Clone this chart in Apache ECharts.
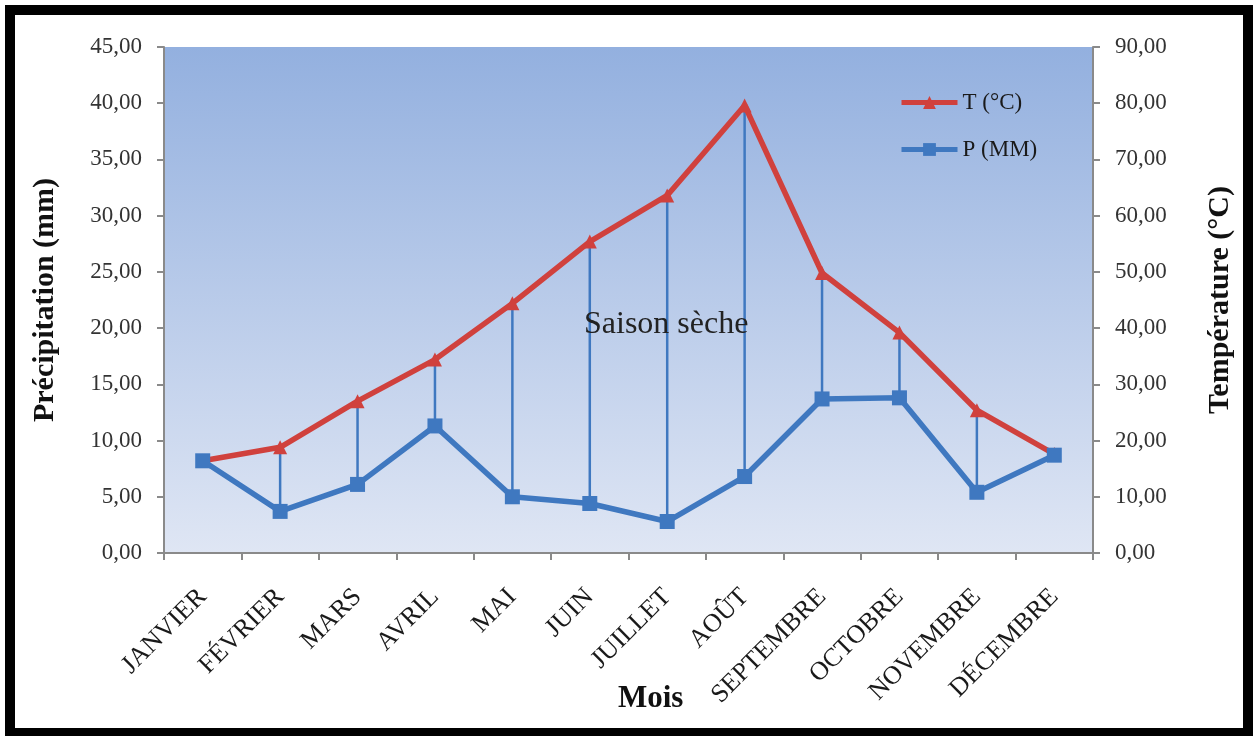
<!DOCTYPE html>
<html><head><meta charset="utf-8">
<script src="https://cdn.jsdelivr.net/npm/echarts@6/dist/echarts.min.js"></script>
<style>html,body{margin:0;padding:0;background:#fff}#c{width:1253px;height:736px}</style>
</head><body><div id="c"></div>
<script>
const months = ['JANVIER','FÉVRIER','MARS','AVRIL','MAI','JUIN','JUILLET','AOÛT','SEPTEMBRE','OCTOBRE','NOVEMBRE','DÉCEMBRE'];
const temperature = [8.2, 9.4, 13.5, 17.2, 22.2, 27.7, 31.8, 39.8, 24.9, 19.6, 12.7, 8.8];
const precipitation = [8.2, 3.7, 6.1, 11.3, 5.0, 4.4, 2.8, 6.8, 13.7, 13.8, 5.4, 8.7];
const leftTicks = {min: 0, max: 45, interval: 5};
const rightTicks = {min: 0, max: 90, interval: 10};

const serif = '"Liberation Serif", "DejaVu Serif", serif';
const fmt = v => v.toFixed(2).replace('.', ',');
const red = '#d0413d', blue = '#3f78c0';

const chart = echarts.init(document.getElementById('c'));
chart.setOption({
  animation: false,
  backgroundColor: '#fff',
  grid: {left: 164, right: 160, top: 47, bottom: 183, show: true, borderWidth: 0,
    backgroundColor: new echarts.graphic.LinearGradient(0, 0, 0, 1, [
      {offset: 0, color: '#93b0df'}, {offset: 1, color: '#dfe6f4'}])},
  legend: {
    left: 894, top: 86, orient: 'vertical', itemGap: 24, itemWidth: 56, itemHeight: 16,
    lineStyle: {width: 5},
    textStyle: {fontFamily: serif, fontSize: 23, color: '#1a1a1a'},
    data: ['T (°C)', 'P (MM)']
  },
  xAxis: {
    type: 'category', data: months, boundaryGap: true,
    axisLine: {lineStyle: {color: '#8a8a8a', width: 2}},
    axisTick: {show: true, length: 7, lineStyle: {color: '#8a8a8a', width: 2}},
    axisLabel: {rotate: 45, fontFamily: serif, fontSize: 26, color: '#1a1a1a', margin: 40, interval: 0}
  },
  yAxis: [{
    type: 'value', ...leftTicks, position: 'left',
    name: 'Précipitation (mm)', nameLocation: 'middle', nameGap: 104,
    nameTextStyle: {fontFamily: serif, fontSize: 30, fontWeight: 'bold', color: '#111'},
    axisLine: {show: true, lineStyle: {color: '#8a8a8a', width: 2}},
    axisTick: {show: true, length: 7, lineStyle: {color: '#8a8a8a', width: 2}},
    splitLine: {show: false},
    axisLabel: {formatter: fmt, fontFamily: serif, fontSize: 23, color: '#333', margin: 22}
  }, {
    type: 'value', ...rightTicks, position: 'right',
    name: 'Température (°C)', nameLocation: 'middle', nameGap: 112, nameRotate: 90,
    nameTextStyle: {fontFamily: serif, fontSize: 30, fontWeight: 'bold', color: '#111'},
    axisLine: {show: true, lineStyle: {color: '#8a8a8a', width: 2}},
    axisTick: {show: true, length: 7, lineStyle: {color: '#8a8a8a', width: 2}},
    splitLine: {show: false},
    axisLabel: {formatter: fmt, fontFamily: serif, fontSize: 23, color: '#333', margin: 22}
  }],
  series: [{
    type: 'custom', name: 'drop', z: 1, silent: true,
    data: months.map((m, i) => [i, precipitation[i], temperature[i]]),
    encode: {x: 0, y: [1, 2]},
    renderItem: (params, api) => {
      const a = api.coord([api.value(0), api.value(1)]);
      const b = api.coord([api.value(0), api.value(2)]);
      return {type: 'line', shape: {x1: a[0], y1: a[1], x2: b[0], y2: b[1]},
        style: {stroke: blue, lineWidth: 2.5}};
    }
  }, {
    type: 'line', name: 'T (°C)', data: temperature, z: 3,
    symbol: 'triangle', symbolSize: 14,
    lineStyle: {color: red, width: 5.5}, itemStyle: {color: red}
  }, {
    type: 'line', name: 'P (MM)', data: precipitation, z: 4,
    symbol: 'rect', symbolSize: 15,
    lineStyle: {color: blue, width: 5.5}, itemStyle: {color: blue}
  }],
  graphic: [{
    type: 'text', left: 584, top: 309, z: 10,
    style: {text: 'Saison sèche', font: '32px ' + serif, fill: '#222'}
  }, {
    type: 'text', left: 618, top: 683, z: 10,
    style: {text: 'Mois', font: 'bold 31px ' + serif, fill: '#111'}
  }, {
    type: 'rect', z: 100, silent: true,
    shape: {x: 10, y: 10, width: 1238, height: 723},
    style: {fill: 'none', stroke: '#000', lineWidth: 10}
  }]
});
</script></body></html>
